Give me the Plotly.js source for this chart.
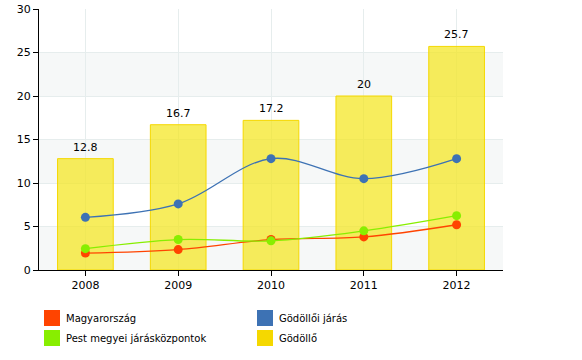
<!DOCTYPE html>
<html><head><meta charset="utf-8">
<script src="https://cdn.plot.ly/plotly-3.0.1.min.js"></script>
<style>html,body{margin:0;padding:0;background:#fff}#chart{width:582px;height:360px}</style>
</head><body><div id="chart"></div>
<script>
const years = ['2008','2009','2010','2011','2012'];
const godollo = [12.8, 16.7, 17.2, 20, 25.7];
const magyarorszag = [1.95, 2.35, 3.5, 3.8, 5.2];
const godolloiJaras = [6.05, 7.6, 12.8, 10.5, 12.8];
const pestJaraskozpontok = [2.45, 3.5, 3.35, 4.5, 6.25];
const legendNames = ['Magyarország', 'Gödöllői járás', 'Pest megyei járásközpontok', 'Gödöllő'];
const legendColors = ['#ff4400', '#3d72b4', '#88ee00', '#f5d800'];

const font = {family: 'DejaVu Sans, Verdana, sans-serif', size: 11, color: '#000'};

const traces = [
  {type: 'bar', x: years, y: godollo, name: legendNames[3], width: 0.6,
   marker: {color: 'rgba(244,230,30,0.72)', line: {color: '#f5d800', width: 1}},
   hoverinfo: 'none'},
  {type: 'scatter', mode: 'lines+markers', x: years, y: magyarorszag, name: legendNames[0],
   line: {color: '#ff4400', width: 1.3, shape: 'spline'}, marker: {color: '#ff4400', size: 9}},
  {type: 'scatter', mode: 'lines+markers', x: years, y: godolloiJaras, name: legendNames[1],
   line: {color: '#3d72b4', width: 1.3, shape: 'spline'}, marker: {color: '#3d72b4', size: 9}},
  {type: 'scatter', mode: 'lines+markers', x: years, y: pestJaraskozpontok, name: legendNames[2],
   line: {color: '#88ee00', width: 1.3, shape: 'spline'}, marker: {color: '#88ee00', size: 9}}
];

const shapes = [];
[[0,5],[10,15],[20,25]].forEach(b => shapes.push({type:'rect', xref:'paper', yref:'y', x0:0, x1:1, y0:b[0], y1:b[1], fillcolor:'#f6f8f8', line:{width:0}, layer:'below'}));

const annotations = [];
// value labels above bars (category index positions)
years.forEach((yr, i) => annotations.push({x: i, y: godollo[i], xref: 'x', yref: 'y',
  text: String(godollo[i]), showarrow: false, yanchor: 'bottom', yshift: 3,
  font: {family: font.family, size: 11, color: '#000'}}));

// manual legend (2 columns)
const legPos = [[44,310],[257,310],[44,330],[257,330]];
legendNames.forEach((n,i) => {
  const [px,py] = legPos[i];
  shapes.push({type:'rect', xref:'paper', yref:'paper',
    x0:(px-39)/464, x1:(px+16-39)/464, y0:(270-py)/261, y1:(270-py-16)/261,
    fillcolor: legendColors[i], line:{width:0}});
  annotations.push({xref:'paper', yref:'paper', x:(px+20-39)/464, y:(270-py-8)/261,
    xanchor:'left', yanchor:'middle', showarrow:false, text:n,
    font:{family: font.family, size: 10, color:'#000'}});
});

const layout = {
  width: 582, height: 360,
  margin: {l: 39, r: 79, t: 9, b: 90},
  paper_bgcolor: '#fff', plot_bgcolor: '#fff',
  showlegend: false, font: font, bargap: 0.4,
  xaxis: {type: 'category', range: [-0.5, 4.5], showline: true, linecolor: '#000', linewidth: 1,
          ticks: 'outside', ticklen: 5, tickcolor: '#000', showgrid: true, gridcolor: '#e6eded',
          tickfont: font, zeroline: false, fixedrange: true},
  yaxis: {range: [0, 30], dtick: 5, showline: true, linecolor: '#000', linewidth: 1,
          ticks: 'outside', ticklen: 5, tickcolor: '#000', showgrid: true, gridcolor: '#e6eded',
          tickfont: font, zeroline: false, fixedrange: true},
  shapes: shapes, annotations: annotations
};
Plotly.newPlot('chart', traces, layout, {displayModeBar: false, staticPlot: true});
</script></body></html>
